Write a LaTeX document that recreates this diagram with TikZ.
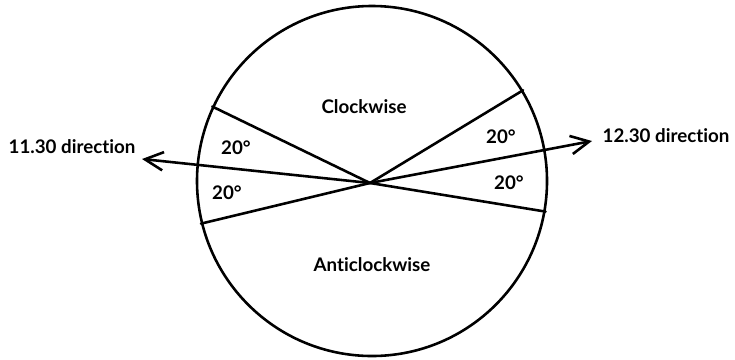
\documentclass[tikz,border=0pt]{standalone}
\usepackage{fontspec}
\setmainfont{Lato}[Ligatures={NoCommon,NoRare,NoDiscretionary}]
\usepackage{tikz}
\usetikzlibrary{
  arrows.meta,
  calc,
  positioning
}
\colorlet{ink}{black}
\tikzset{
  arrow/.style={-{Straight Barb[length=5.5mm,width=5.5mm]}, draw=ink, line width=2.2pt},
  dialline/.style={draw=ink, line width=2.2pt, line cap=round},
  dial/.style={
    circle,
    draw=ink,
    line width=2.2pt,
    minimum size=10.5cm,
    inner sep=0pt
  },
  sectorlabel/.style={font=\fontsize{16}{19}\selectfont\bfseries, text=ink, inner sep=0pt},
  dirlabel/.style={font=\fontsize{16}{19}\selectfont\bfseries, text=ink, inner sep=0pt}
}

\begin{document}
\begin{tikzpicture}[x=0.03cm,y=-0.03cm]
  \useasboundingbox (0,0) rectangle (735,359);

  \node[dial] (face) at (372,181) {};
  \coordinate (hub) at (370,183);

  % sector boundaries
  \draw[dialline] (hub) -- (face.155);
  \draw[dialline] (hub) -- (face.194);
  \draw[dialline] (hub) -- (face.31);
  \draw[dialline] (hub) -- (face.350);

  % direction arrows
  \coordinate (tipleft) at (142,159);
  \coordinate (tipright) at (592,141);
  \draw[arrow] (hub) -- (tipleft);
  \draw[arrow] (hub) -- (tipright);

  \node[dirlabel] (dirleft) at (72,147) {11.30 direction};
  \node[dirlabel] (dirright) at (666,136) {12.30 direction};

  \node[sectorlabel] (cw) at (364,107) {Clockwise};
  \node[sectorlabel] (acw) at (372,265) {Anticlockwise};

  \node[sectorlabel] (degul) at (236,148) {20°};
  \node[sectorlabel] (degll) at (227,193) {20°};
  \node[sectorlabel] (degur) at (501,137) {20°};
  \node[sectorlabel] (deglr) at (509,183) {20°};
\end{tikzpicture}
\end{document}
